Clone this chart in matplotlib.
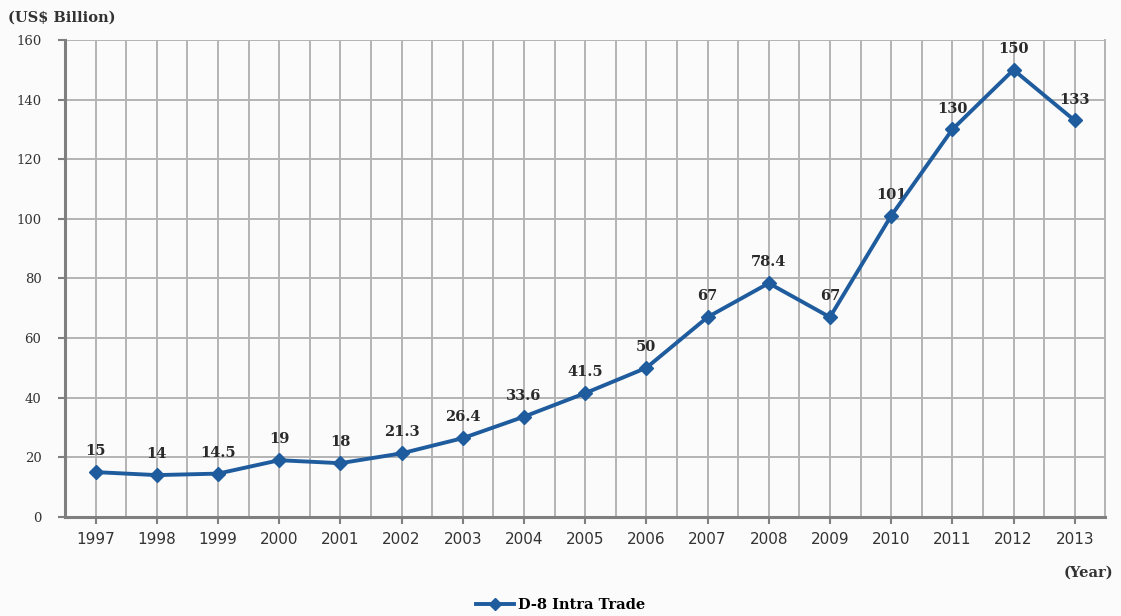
import numpy as np
import matplotlib.pyplot as plt
from matplotlib.lines import Line2D

years = ['1997', '1998', '1999', '2000', '2001', '2002', '2003', '2004', '2005',
         '2006', '2007', '2008', '2009', '2010', '2011', '2012', '2013']
trade = [15, 14, 14.5, 19, 18, 21.3, 26.4, 33.6, 41.5, 50, 67, 78.4, 67, 101, 130, 150, 133]
labels = ['15', '14', '14.5', '19', '18', '21.3', '26.4', '33.6', '41.5', '50', '67',
          '78.4', '67', '101', '130', '150', '133']
yticks = [0, 20, 40, 60, 80, 100, 120, 140, 160]

blue = '#1f5c9e'
grid = '#b4b4b4'
serif = 'DejaVu Serif'

fig = plt.figure(figsize=(11.21, 6.16), dpi=100)
fig.patch.set_facecolor('#fbfbfb')
ax = fig.add_axes([0.058, 0.161, 0.928, 0.774])
ax.set_facecolor('#fbfbfb')

x = np.arange(len(years))
ax.plot(x, trade, color=blue, lw=2.8, marker='D', ms=7, mfc=blue, mec=blue, zorder=5)
for xi, v, lab in zip(x, trade, labels):
    ax.annotate(lab, (xi, v), xytext=(0, 10), textcoords='offset points', ha='center',
                va='bottom', fontsize=10.5, fontweight='bold', family=serif, color='#2a2a2a')

ax.set_xlim(-0.5, len(years) - 0.5)
ax.set_ylim(0, 160)
ax.set_xticks(x)
ax.set_xticklabels(years, fontsize=11, color='#333333')
ax.set_xticks(np.arange(-0.5, len(years), 1.0), minor=True)
ax.set_yticks(yticks)
ax.set_yticklabels([str(t) for t in yticks], fontsize=9.5, family=serif, color='#333333')

for xv in np.arange(-0.5, len(years), 0.5):
    ax.axvline(xv, color=grid, lw=1.4, zorder=1)
for yv in yticks[1:]:
    ax.axhline(yv, color=grid, lw=1.4, zorder=1)

ax.spines['top'].set_visible(False)
ax.spines['right'].set_color(grid)
ax.spines['right'].set_linewidth(1.4)
ax.spines['left'].set_color('#7f7f7f')
ax.spines['left'].set_linewidth(2.2)
ax.spines['bottom'].set_color('#7f7f7f')
ax.spines['bottom'].set_linewidth(2.2)
ax.tick_params(axis='both', which='major', color='#7f7f7f', length=5, width=1.5, pad=6)
ax.tick_params(axis='x', which='minor', length=0)
ax.tick_params(axis='y', pad=12)

fig.text(0.007, 0.972, '(US$ Billion)', fontsize=10.5, fontweight='bold', family=serif,
         color='#333333', va='center')
fig.text(0.993, 0.071, '(Year)', fontsize=10.5, fontweight='bold', family=serif,
         color='#333333', va='center', ha='right')

h = Line2D([], [], color=blue, lw=2.8, marker='D', ms=6, mfc=blue, mec=blue)
fig.legend([h], ['D-8 Intra Trade'], loc='center', bbox_to_anchor=(0.5, 0.018), frameon=False,
           prop={'family': serif, 'weight': 'bold', 'size': 10.5}, handlelength=2.6, handletextpad=0.3)

fig.savefig('out.png', dpi=100, facecolor=fig.get_facecolor())
